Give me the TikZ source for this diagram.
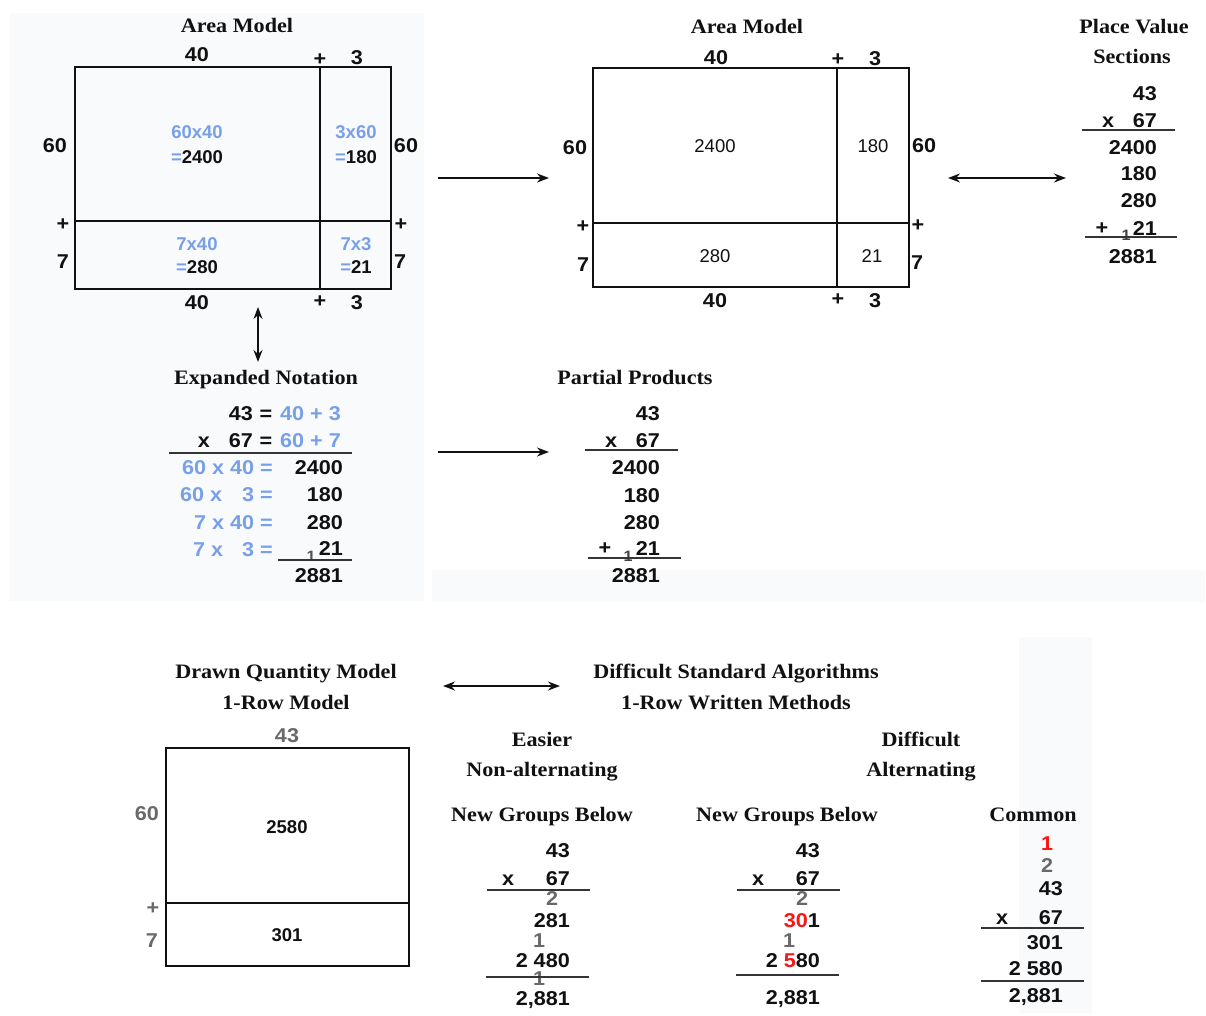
\documentclass[tikz,border=0pt]{standalone}
\usepackage{fontspec}
\setmainfont{Liberation Serif}
\newfontfamily\titlef[FakeStretch=1.08]{Liberation Serif}
\newfontfamily\numf[FakeStretch=1.08]{Liberation Sans}
\newfontfamily\amf{Liberation Sans}
\usetikzlibrary{arrows.meta}
\definecolor{panel}{RGB}{249,250,252}
\definecolor{bluet}{RGB}{120,160,232}
\definecolor{grayt}{RGB}{105,105,105}
\definecolor{redt}{RGB}{250,20,20}
\definecolor{ink}{RGB}{17,17,17}
\tikzset{
  ttl/.style={inner sep=0pt, text height=13.6pt, text depth=0pt, text=ink, font=\titlef\bfseries\fontsize{20.5}{24}\selectfont},
  num/.style={inner sep=0pt, text height=14.3pt, text depth=0pt, text=ink, font=\numf\bfseries\fontsize{20}{24}\selectfont},
  amb/.style={inner sep=0pt, text height=13.2pt, text depth=0pt, text=ink, font=\amf\bfseries\fontsize{18.5}{22}\selectfont},
  amr/.style={inner sep=0pt, text height=13.2pt, text depth=0pt, text=ink, font=\amf\fontsize{18.5}{22}\selectfont},
  carry/.style={inner sep=0pt, text height=11pt, text depth=0pt, text=grayt!80!black, font=\numf\bfseries\fontsize{15}{17}\selectfont},
  boxline/.style={draw=ink, line width=2.6pt},
  rule/.style={draw=ink!85, line width=2pt},
  arr/.style={draw=ink, line width=1.6pt, -{Stealth[length=12pt,width=9pt]}},
  darr/.style={draw=ink, line width=1.6pt, {Stealth[length=12pt,width=9pt]}-{Stealth[length=12pt,width=9pt]}},
}
\begin{document}
\begin{tikzpicture}[x=1pt,y=-1pt]
\useasboundingbox (0,0) rectangle (1206,1015);
\fill[white] (0,0) rectangle (1206,1015);
% background panels
\fill[panel] (10,13) rectangle (424,601);
\fill[panel] (432,570) rectangle (1205,602);
\fill[panel] (1019,637) rectangle (1092,1013);

% ---------- Area model 1 ----------
\node[ttl] (t1) at (237,26) {Area Model};
\draw[boxline] (75,67) rectangle (391,289);
\draw[boxline] (320,67) -- (320,289);
\draw[boxline] (75,221) -- (391,221);
\node[num] (a1t40) at (197,54) {40};
\node[num] (a1tp) at (320,58) {+};
\node[num] (a1t3) at (357,57) {3};
\node[num] (a1l60) at (55,145) {60};
\node[num] (a1lp) at (63,223) {+};
\node[num] (a1l7) at (63,261) {7};
\node[num] (a1r60) at (406,145) {60};
\node[num] (a1rp) at (401,223) {+};
\node[num] (a1r7) at (400,261) {7};
\node[num] (a1b40) at (197,302) {40};
\node[num] (a1bp) at (320,300) {+};
\node[num] (a1b3) at (357,302) {3};
\node[amb,text=bluet] (c1a) at (197,132) {60x40};
\node[amb] (c1b) at (197,157) {\textcolor{bluet}{=}2400};
\node[amb,text=bluet] (c2a) at (356,132) {3x60};
\node[amb] (c2b) at (356,157) {\textcolor{bluet}{=}180};
\node[amb,text=bluet] (c3a) at (197,244) {7x40};
\node[amb] (c3b) at (197,267) {\textcolor{bluet}{=}280};
\node[amb,text=bluet] (c4a) at (356,244) {7x3};
\node[amb] (c4b) at (356,267) {\textcolor{bluet}{=}21};

\coordinate (v1) at (258,307);
\coordinate (v2) at (258,362);
\draw[darr] (v1) -- (v2);

% ---------- Area model 2 ----------
\node[ttl] (t2) at (747,27) {Area Model};
\draw[boxline] (593,68) rectangle (909,287);
\draw[boxline] (837,68) -- (837,287);
\draw[boxline] (593,223) -- (909,223);
\node[num] (a2t40) at (716,57) {40};
\node[num] (a2tp) at (838,58) {+};
\node[num] (a2t3) at (875,58) {3};
\node[num] (a2l60) at (575,147) {60};
\node[num] (a2lp) at (583,225) {+};
\node[num] (a2l7) at (583,264) {7};
\node[num] (a2r60) at (924,145) {60};
\node[num] (a2rp) at (918,224) {+};
\node[num] (a2r7) at (917,262) {7};
\node[num] (a2b40) at (715,300) {40};
\node[num] (a2bp) at (838,298) {+};
\node[num] (a2b3) at (875,300) {3};
\node[amr] (d1) at (715,146) {2400};
\node[amr] (d2) at (873,146) {180};
\node[amr] (d3) at (715,256) {280};
\node[amr] (d4) at (872,256) {21};

\coordinate (h1) at (438,178);
\coordinate (h2) at (549,178);
\draw[arr] (h1) -- (h2);
\coordinate (h3) at (948,178);
\coordinate (h4) at (1066,178);
\draw[darr] (h3) -- (h4);

% ---------- Place value sections ----------
\node[ttl] (t3) at (1134,27) {Place Value};
\node[ttl] (t3b) at (1132,57) {Sections};
\node[num,anchor=east] (p1) at (1157,93) {43};
\node[num] (px) at (1108,120) {x};
\node[num,anchor=east] (p2) at (1157,120) {67};
\draw[rule] (1082,130) -- (1175,130);
\node[num,anchor=east] (p3) at (1157,147) {2400};
\node[num,anchor=east] (p4) at (1157,173) {180};
\node[num,anchor=east] (p5) at (1157,200) {280};
\node[num] (pp) at (1102,227) {+};
\node[num,anchor=east] (p6) at (1157,228) {21};
\node[carry,text=ink!80] (pc) at (1126,235) {1};
\draw[rule] (1085,237) -- (1177,237);
\node[num,anchor=east] (p7) at (1157,256) {2881};

% ---------- Expanded notation ----------
\node[ttl] (t4) at (266,378) {Expanded Notation};
\node[num,anchor=east] (e1) at (253,413) {43};
\node[num] (e1q) at (266,413) {=};
\node[num,anchor=west,text=bluet] (e1b) at (280,413) {40 + 3};
\node[num] (e2x) at (204,440) {x};
\node[num,anchor=east] (e2) at (253,440) {67};
\node[num] (e2q) at (266,440) {=};
\node[num,anchor=west,text=bluet] (e2b) at (280,440) {60 + 7};
\draw[rule] (169,453) -- (352,453);
\node[num,anchor=east,text=bluet] (e3a) at (273,467) {60 x 40 =};
\node[num,anchor=east] (e3) at (343,467) {2400};
\node[num,anchor=west,text=bluet] (e4a) at (180,494) {60 x};
\node[num,anchor=east,text=bluet] (e4b) at (273,494) {3 =};
\node[num,anchor=east] (e4) at (343,494) {180};
\node[num,anchor=east,text=bluet] (e5a) at (273,522) {7 x 40 =};
\node[num,anchor=east] (e5) at (343,522) {280};
\node[num,anchor=west,text=bluet] (e6a) at (193,549) {7 x};
\node[num,anchor=east,text=bluet] (e6b) at (273,549) {3 =};
\node[num,anchor=east] (e6) at (343,548) {21};
\node[carry] (ec) at (311,556) {1};
\draw[rule] (278,560) -- (352,560);
\node[num,anchor=east] (e7) at (343,575) {2881};

\coordinate (h5) at (438,452);
\coordinate (h6) at (549,452);
\draw[arr] (h5) -- (h6);

% ---------- Partial products ----------
\node[ttl] (t5) at (635,378) {Partial Products};
\node[num,anchor=east] (q1) at (660,413) {43};
\node[num] (qx) at (611,440) {x};
\node[num,anchor=east] (q2) at (660,440) {67};
\draw[rule] (585,450) -- (678,450);
\node[num,anchor=east] (q3) at (660,467) {2400};
\node[num,anchor=east] (q4) at (660,495) {180};
\node[num,anchor=east] (q5) at (660,522) {280};
\node[num] (qp) at (605,547) {+};
\node[num,anchor=east] (q6) at (660,548) {21};
\node[carry,text=ink!80] (qc) at (628,556) {1};
\draw[rule] (588,558) -- (681,558);
\node[num,anchor=east] (q7) at (660,575) {2881};

% ---------- Bottom titles ----------
\node[ttl] (t6) at (286,672) {Drawn Quantity Model};
\node[ttl] (t6b) at (286,703) {1-Row Model};
\node[ttl] (t7) at (736,672) {Difficult Standard Algorithms};
\node[ttl] (t7b) at (736,703) {1-Row Written Methods};
\coordinate (h7) at (443,686);
\coordinate (h8) at (560,686);
\draw[darr] (h7) -- (h8);

% ---------- Drawn quantity model ----------
\draw[boxline] (166,748) rectangle (409,966);
\draw[boxline] (166,903) -- (409,903);
\node[num,text=grayt] (g43) at (287,735) {43};
\node[num,text=grayt] (g60) at (147,813) {60};
\node[num,text=grayt] (gp) at (153,907) {+};
\node[num,text=grayt] (g7) at (152,940) {7};
\node[amb] (g2580) at (287,827) {2580};
\node[amb] (g301) at (287,935) {301};

% ---------- Easier ----------
\node[ttl] (t8) at (542,740) {Easier};
\node[ttl] (t8b) at (542,770) {Non-alternating};
\node[ttl] (t8c) at (542,815) {New Groups Below};
\node[num,anchor=east] (s1) at (570,850) {43};
\node[num] (sx) at (508,878) {x};
\node[num,anchor=east] (s2) at (570,878) {67};
\node[num,text=grayt] (sc1) at (552,898) {2};
\draw[rule] (487,890) -- (590,890);
\node[num,anchor=east] (s3) at (570,920) {281};
\node[num,text=grayt] (sc2) at (539,940) {1};
\node[num,anchor=east] (s4) at (570,960) {2 480};
\node[num,text=grayt] (sc3) at (539,978) {1};
\draw[rule] (486,977) -- (589,977);
\node[num,anchor=east] (s5) at (570,998) {2,881};

% ---------- Alternating ----------
\node[ttl] (t9) at (921,740) {Difficult};
\node[ttl] (t9b) at (921,770) {Alternating};
\node[ttl] (t9c) at (787,815) {New Groups Below};
\node[num,anchor=east] (r1) at (820,850) {43};
\node[num] (rx) at (758,878) {x};
\node[num,anchor=east] (r2) at (820,878) {67};
\node[num,text=grayt] (rc1) at (802,898) {2};
\draw[rule] (737,890) -- (840,890);
\node[num,anchor=east] (r3) at (820,920) {\textcolor{redt}{30}1};
\node[num,text=grayt] (rc2) at (789,940) {1};
\node[num,anchor=east] (r4) at (820,960) {2 \textcolor{redt}{5}80};
\draw[rule] (736,975) -- (839,975);
\node[num,anchor=east] (r5) at (820,997) {2,881};

% ---------- Common ----------
\node[ttl] (t10) at (1033,815) {Common};
\node[num,text=redt] (k1) at (1047,843) {1};
\node[num,text=grayt] (k2) at (1047,865) {2};
\node[num,anchor=east] (k3) at (1063,888) {43};
\node[num] (kx) at (1002,917) {x};
\node[num,anchor=east] (k4) at (1063,917) {67};
\draw[rule] (981,928) -- (1084,928);
\node[num,anchor=east] (k5) at (1063,942) {301};
\node[num,anchor=east] (k6) at (1063,968) {2 580};
\draw[rule] (981,981) -- (1084,981);
\node[num,anchor=east] (k7) at (1063,995) {2,881};
\end{tikzpicture}
\end{document}
